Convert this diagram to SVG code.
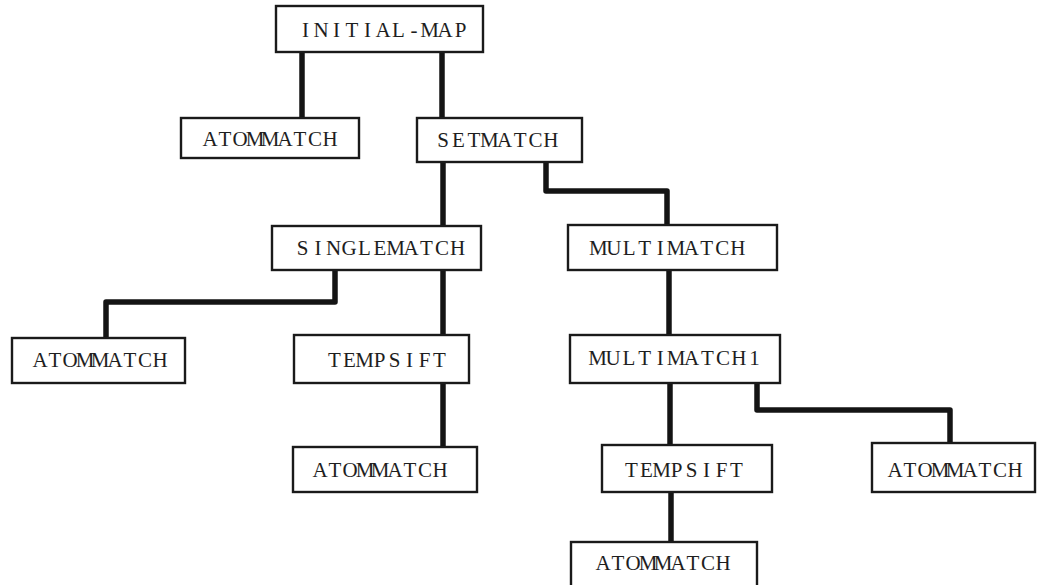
<svg xmlns="http://www.w3.org/2000/svg" width="1042" height="585" viewBox="0 0 1042 585">
  <style>
    .box { fill: #ffffff; stroke: #1a1a1a; stroke-width: 2.4; }
    /* typewriter look: serif glyphs, each centred in a fixed-pitch cell */
    .lbl { font-family: "Liberation Serif", "DejaVu Serif", serif; font-size: 21px; fill: #1e1e1e; text-anchor: middle; dominant-baseline: central; }
    .edge { fill: none; stroke: #141414; stroke-width: 5.5; stroke-linejoin: round; stroke-linecap: butt; }
  </style>
  <rect width="1042" height="585" fill="#ffffff"/>

  <!-- connectors -->
  <g id="connectors">
    <path class="edge" d="M302,52 V118"/>
    <path class="edge" d="M442,52 V118"/>
    <path class="edge" d="M443,162 V226"/>
    <path class="edge" d="M546,162 V191 H667 V225"/>
    <path class="edge" d="M335,270 V302 H106 V338"/>
    <path class="edge" d="M443,270 V335"/>
    <path class="edge" d="M443,383 V447"/>
    <path class="edge" d="M669,270 V335"/>
    <path class="edge" d="M757,383 V410 H950 V443"/>
    <path class="edge" d="M670,383 V445"/>
    <path class="edge" d="M671,492 V542"/>
  </g>

  <!-- nodes -->
  <g id="initial-map">
    <rect class="box" x="276" y="6" width="207" height="46"/>
    <text class="lbl" x="305.5 321 336.5 352 367.5 383 398.5 414 429.5 445 460.5" y="30">INITIAL-MAP</text>
  </g>
  <g id="atommatch-1">
    <rect class="box" x="181" y="118" width="178" height="40"/>
    <text class="lbl" x="210 225 240 255 270 285 300 315 330" y="139">ATOMMATCH</text>
  </g>
  <g id="setmatch">
    <rect class="box" x="417" y="118" width="165" height="44"/>
    <text class="lbl" x="443.1 458.5 473.9 489.3 504.7 520.1 535.5 550.9" y="140">SETMATCH</text>
  </g>
  <g id="singlematch">
    <rect class="box" x="272" y="226" width="209" height="44"/>
    <text class="lbl" x="302.5 318 333.5 349 364.5 380 395.5 411 426.5 442 457.5" y="248">SINGLEMATCH</text>
  </g>
  <g id="multimatch">
    <rect class="box" x="568" y="225" width="209" height="45"/>
    <text class="lbl" x="598.25 613.75 629.25 644.75 660.25 675.75 691.25 706.75 722.25 737.75" y="248">MULTIMATCH</text>
  </g>
  <g id="atommatch-2">
    <rect class="box" x="12" y="338" width="173" height="45"/>
    <text class="lbl" x="40 55 70 85 100 115 130 145 160" y="360">ATOMMATCH</text>
  </g>
  <g id="tempsift-1">
    <rect class="box" x="294" y="335" width="175" height="48"/>
    <text class="lbl" x="334.5 349.5 364.5 379.5 394.5 409.5 424.5 439.5" y="360">TEMPSIFT</text>
  </g>
  <g id="atommatch-3">
    <rect class="box" x="293" y="447" width="184" height="45"/>
    <text class="lbl" x="320 335 350 365 380 395 410 425 440" y="470">ATOMMATCH</text>
  </g>
  <g id="multimatch1">
    <rect class="box" x="570" y="335" width="210" height="48"/>
    <text class="lbl" x="597.5 613.2 628.9 644.6 660.3 676 691.7 707.4 723.1 738.8 754.5" y="358">MULTIMATCH1</text>
  </g>
  <g id="tempsift-2">
    <rect class="box" x="602" y="445" width="170" height="47"/>
    <text class="lbl" x="631.5 646.5 661.5 676.5 691.5 706.5 721.5 736.5" y="470">TEMPSIFT</text>
  </g>
  <g id="atommatch-4">
    <rect class="box" x="872" y="443" width="163" height="49"/>
    <text class="lbl" x="895 910 925 940 955 970 985 1000 1015" y="470">ATOMMATCH</text>
  </g>
  <g id="atommatch-5">
    <rect class="box" x="571" y="542" width="186" height="60"/>
    <text class="lbl" x="603 618 633 648 663 678 693 708 723" y="563">ATOMMATCH</text>
  </g>
</svg>
